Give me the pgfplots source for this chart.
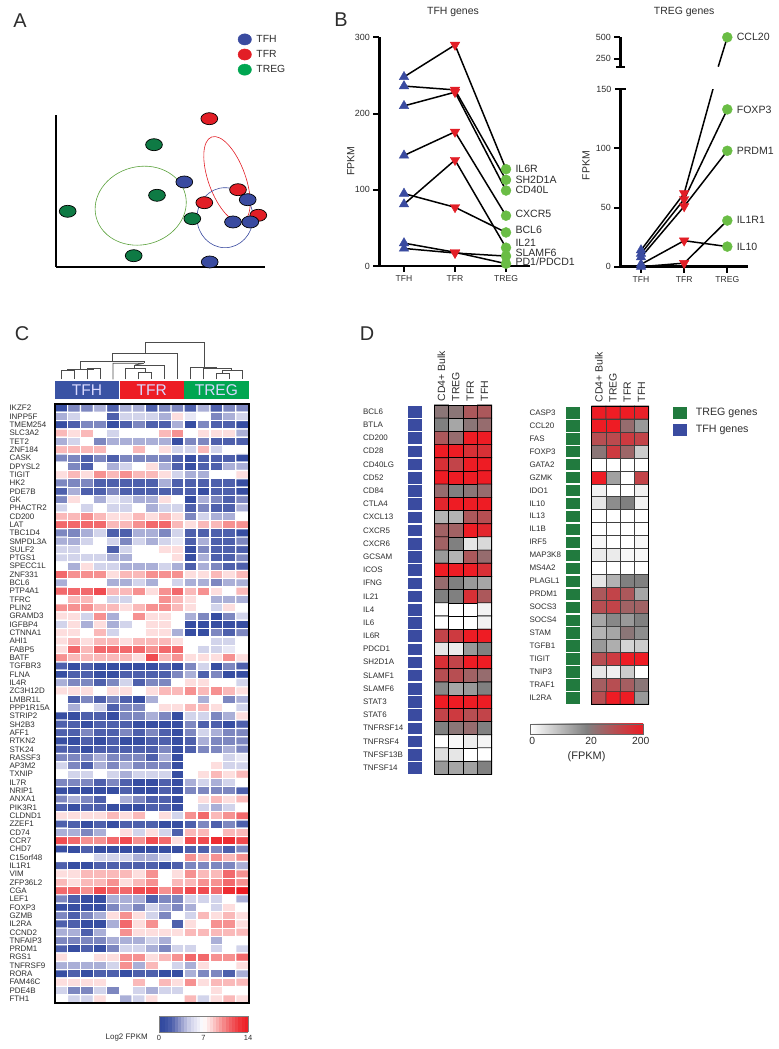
\documentclass[border=0pt]{standalone}
\usepackage{pgfplots}
\usepackage{fontspec}
\setmainfont{Liberation Sans}
\pgfplotsset{compat=1.18}
\newcommand{\fs}[1]{\fontsize{#1}{#1}\selectfont}
\definecolor{tfh}{RGB}{58,75,160}
\definecolor{tfr}{RGB}{226,30,38}
\definecolor{treg}{RGB}{14,122,68}
\definecolor{dotg}{RGB}{106,189,69}
\definecolor{squg}{RGB}{33,122,62}
\definecolor{legg}{RGB}{0,166,81}
\definecolor{txt}{RGB}{45,45,45}
\pgfplotsset{
  every axis/.append style={/pgf/number format/assume math mode=true, scale only axis},
  colormap={bwr}{rgb255(0)=(48,72,158) rgb255(1)=(55,78,162) rgb255(2)=(78,96,172) rgb255(3)=(125,135,192)
    rgb255(4)=(170,175,215) rgb255(5)=(210,212,235) rgb255(6)=(232,232,245) rgb255(7)=(255,255,255)
    rgb255(8)=(253,222,222) rgb255(9)=(250,185,185) rgb255(10)=(246,145,145) rgb255(11)=(242,105,108)
    rgb255(12)=(240,75,80) rgb255(13)=(238,45,50) rgb255(14)=(237,28,36)},
  colormap={gwr}{rgb255(0)=(255,255,255) rgb255(5)=(128,128,128) rgb255(10)=(238,28,36)},
  spine/.style={axis x line*=bottom, axis y line*=left, axis line style={line width=2.6bp,black},
    tick style={line width=2bp,black}, major tick length=6bp, tick align=outside,
    yticklabel style={font=\fs{9},text=txt}, xticklabel style={font=\fs{8.6},text=txt},
    label style={font=\fs{10.5},text=txt}, clip mode=individual,
    every axis title shift=0pt,title style={font=\fs{10.5},text=txt,anchor=center}},
  gene/.style={black,line width=1.5bp},
  up/.style={only marks,mark=triangle*,mark size=5.5bp,mark options={fill=tfh,draw=tfh}},
  down/.style={only marks,mark=triangle*,mark size=5.5bp,mark options={rotate=180,fill=tfr,draw=tfr}},
  dot/.style={only marks,mark=*,mark size=5bp,mark options={fill=dotg,draw=dotg}},
  dendro/.style={draw=black!70,line width=0.8bp},
  heatD/.style={xmin=-0.5,xmax=3.5,y dir=reverse,clip=false,axis on top,
    xtick={0,1,2,3},xticklabels={CD4+ Bulk,TREG,TFR,TFH},xticklabel pos=upper,
    major tick length=0pt,point meta min=0,point meta max=10,colormap name=gwr,
    axis line style={black,line width=0.8bp},
    xticklabel style={rotate=90,anchor=west,font=\fs{10.5},text=txt,inner sep=0pt,xshift=3.5bp}}
}
\begin{document}
\begin{tikzpicture}
\path[use as bounding box] (0,0) rectangle (779bp,1049bp);
\node[font=\fs{20},text=txt] at (20bp,1028bp) {A};
\node[font=\fs{20},text=txt] at (341bp,1029bp) {B};
\node[font=\fs{20},text=txt] at (22bp,715bp) {C};
\node[font=\fs{20},text=txt] at (367bp,715bp) {D};

% A
\begin{axis}[at={(56bp,782bp)},width=209bp,height=152bp,xmin=0,xmax=209,ymin=0,ymax=152,
  axis x line*=bottom,axis y line*=left,axis line style={line width=2bp,black},
  xtick=\empty,ytick=\empty,clip=false,
  legend style={at={(0.87,1.54)},anchor=north west,draw=none,fill=none,font=\fs{10.4},
    text=txt,row sep=2.5bp,column sep=3bp,inner sep=0pt},legend cell align=left]
\addlegendimage{only marks,mark=*,mark size=5.6bp,mark options={xscale=1.2,fill=tfh,draw=tfh}}
\addlegendentry{TFH}
\addlegendimage{only marks,mark=*,mark size=5.6bp,mark options={xscale=1.2,fill=tfr,draw=tfr}}
\addlegendentry{TFR}
\addlegendimage{only marks,mark=*,mark size=5.6bp,mark options={xscale=1.2,fill=legg,draw=legg}}
\addlegendentry{TREG}
\addplot[forget plot,only marks,mark=*,mark size=6bp,mark options={xscale=1.4,fill=treg,draw=black,line width=0.7bp}]
  coordinates {(98,122.3)(101,71.7)(11.7,55.7)(136.3,48.3)(77.7,11.3)};
\addplot[forget plot,only marks,mark=*,mark size=6bp,mark options={xscale=1.4,fill=tfr,draw=black,line width=0.7bp}]
  coordinates {(153.3,148.3)(182,77.3)(148.3,64.3)(202.3,51.7)};
\addplot[forget plot,only marks,mark=*,mark size=6bp,mark options={xscale=1.4,fill=tfh,draw=black,line width=0.7bp}]
  coordinates {(128.3,85)(191.7,67.3)(177,45)(194.3,45)(153.7,5)};
\draw[draw=dotg!85!black,line width=0.6bp,rotate around={15:(axis cs:84.7,61.3)}] (axis cs:84.7,61.3) ellipse [x radius=46bp,y radius=39bp];
\draw[draw=tfr,line width=0.6bp,rotate around={-70:(axis cs:171,87.7)}] (axis cs:171,87.7) ellipse [x radius=45bp,y radius=18.5bp];
\draw[draw=tfh,line width=0.6bp] (axis cs:169,49.3) ellipse [x radius=28bp,y radius=30bp];
\end{axis}

% B left
\begin{axis}[spine,at={(379.3bp,783bp)},width=150.7bp,height=228.7bp,xmin=-0.484,xmax=2.47,ymin=0,ymax=300,
  xtick={0,1,2},xticklabels={TFH,TFR,TREG},ytick={0,100,200,300},ylabel={FPKM},
  ylabel style={at={(axis description cs:-0.19,0.459)},anchor=center},
  title={TFH genes},title style={at={(axis description cs:0.489,1.11)}}]
\addplot[gene] coordinates {(0,248)(1,290)(2,127)};
\addplot[gene] coordinates {(0,236)(1,231)(2,113)};
\addplot[gene] coordinates {(0,210)(1,228)(2,99)};
\addplot[gene] coordinates {(0,145)(1,176)(2,66)};
\addplot[gene] coordinates {(0,95)(1,77)(2,44)};
\addplot[gene] coordinates {(0,81)(1,139)(2,24)};
\addplot[gene] coordinates {(0,23)(1,17)(2,13)};
\addplot[gene] coordinates {(0,30)(1,18)(2,3)};
\addplot[up] coordinates {(0,248)(0,236)(0,210)(0,145)(0,95)(0,81)(0,23)(0,30)};
\addplot[down] coordinates {(1,290)(1,231)(1,228)(1,176)(1,77)(1,139)(1,17)(1,18)};
\addplot[dot] coordinates {(2,127)(2,113)(2,99)(2,66)(2,44)(2,24)(2,13)(2,3)};
\foreach \v/\t in {127/IL6R,113/SH2D1A,100/CD40L,69/CXCR5,47/BCL6,30.5/IL21,17/SLAMF6,6/PD1\slash PDCD1}{
  \edef\tmp{\noexpand\node[anchor=west,inner sep=0pt,font=\noexpand\fs{10.6},text=txt,xshift=9.3bp] at (axis cs:2,\v) {\unexpanded\expandafter{\t}};}\tmp
}
\end{axis}

% B right, lower part
\begin{axis}[spine,at={(620.3bp,782.3bp)},width=127.7bp,height=177.4bp,xmin=-0.48,xmax=2.48,ymin=0,ymax=150,
  xtick={0,1,2},xticklabels={TFH,TFR,TREG},ytick={0,50,100},extra y ticks={150},extra y tick labels={150},
  extra tick style={tick align=center,major tick length=11bp},ylabel={FPKM},
  ylabel style={at={(axis description cs:-0.269,0.569)},anchor=center}]
\addplot[gene] coordinates {(0,14)(1,62)(2,194)};
\addplot[gene] coordinates {(0,11)(1,57)(2,133)};
\addplot[gene] coordinates {(0,8)(1,51)(2,98)};
\addplot[gene] coordinates {(0,2)(1,22)(2,17)};
\addplot[gene] coordinates {(0,0)(1,3)(2,39)};
\addplot[up] coordinates {(0,14)(0,11)(0,8)(0,2)(0,0)};
\addplot[down] coordinates {(1,62)(1,57)(1,51)(1,22)(1,3)};
\addplot[dot] coordinates {(2,133)(2,98)(2,39)(2,17)};
\foreach \v/\t in {133/FOXP3,98/PRDM1,40/IL1R1,17/IL10}{
  \edef\tmp{\noexpand\node[anchor=west,inner sep=0pt,font=\noexpand\fs{10.6},text=txt,xshift=9.3bp] at (axis cs:2,\v) {\t};}\tmp
}
\end{axis}

% B right, upper part
\begin{axis}[spine,at={(620.3bp,982.3bp)},width=127.7bp,height=29.4bp,xmin=-0.48,xmax=2.48,ymin=156,ymax=500,
  axis x line=none,ytick={250,500},extra y ticks={156},extra y tick labels={},
  extra tick style={tick align=center,major tick length=9bp},
  title={TREG genes},title style={at={(axis description cs:0.5,1.86)}}]
\addplot[gene] coordinates {(1.79,156)(2,500)};
\addplot[dot] coordinates {(2,500)};
\node[anchor=west,inner sep=0pt,font=\fs{10.6},text=txt,xshift=9.3bp] at (axis cs:2,505) {CCL20};
\end{axis}

% C, dendrogram and group bars
\begin{axis}[at={(54.7bp,650bp)},width=194bp,height=61bp,xmin=0,xmax=15,ymin=0,ymax=61,hide axis,clip=false]
\addplot[fill={rgb,255:red,58;green,83;blue,164},draw=none] coordinates {(0,0)(4.98,0)(4.98,18.3)(0,18.3)} -- cycle;
\addplot[fill={rgb,255:red,237;green,28;blue,36},draw=none] coordinates {(5.02,0)(9.98,0)(9.98,18.3)(5.02,18.3)} -- cycle;
\addplot[fill={rgb,255:red,0;green,166;blue,81},draw=none] coordinates {(10.02,0)(15,0)(15,18.3)(10.02,18.3)} -- cycle;
\node[font=\fs{15.6},text=white!85!blue] at (axis cs:2.5,8.6) {TFH};
\node[font=\fs{15.6},text=white!85!blue] at (axis cs:7.5,8.6) {TFR};
\node[font=\fs{15.6},text=white!85!blue] at (axis cs:12.5,8.6) {TREG};
\addplot[dendro] coordinates {(0.5,19.7)(0.5,28.3)(1.5,28.3)(1.5,19.7)};
\addplot[dendro] coordinates {(2.5,19.7)(2.5,30.7)(3.5,30.7)(3.5,19.7)};
\addplot[dendro] coordinates {(1,28.3)(1,29.7)(3,29.7)};
\addplot[dendro] coordinates {(2,29.7)(2,37.3)(6.9,37.3)(6.9,35.7)};
\addplot[dendro] coordinates {(4.5,19.7)(4.5,35.7)(6.9,35.7)(6.2,34)};
\addplot[dendro] coordinates {(6.5,19.7)(6.5,26.7)(7.5,26.7)(7.5,19.7)};
\addplot[dendro] coordinates {(5.5,19.7)(5.5,30.7)(7,30.7)(7,26.7)};
\addplot[dendro] coordinates {(6.2,30.7)(6.2,34)(8.5,34)(8.5,19.7)};
\addplot[dendro] coordinates {(4.46,37.3)(4.46,45.7)(9.5,45.7)(9.5,19.7)};
\addplot[dendro] coordinates {(7,45.7)(7,57)(11.6,57)(11.6,31.7)};
\addplot[dendro] coordinates {(12.5,19.7)(12.5,25.7)(13.5,25.7)(13.5,19.7)};
\addplot[dendro] coordinates {(13,25.7)(13,29)(14.5,29)(14.5,19.7)};
\addplot[dendro] coordinates {(11.5,19.7)(11.5,31)(13.7,31)(13.7,29)};
\addplot[dendro] coordinates {(10.5,19.7)(10.5,31.7)(12.5,31.7)(12.5,31)};
\end{axis}

% C, heat map
\begin{axis}[at={(54.7bp,46bp)},width=194bp,height=599bp,xmin=-0.5,xmax=14.5,ymin=-0.5,ymax=71.5,
  y dir=reverse,clip=false,axis on top,axis line style={black,line width=1.6bp},
  xtick=\empty,ytick={0,...,71},major tick length=0pt,
  yticklabels={IKZF2,INPP5F,TMEM254,SLC3A2,TET2,ZNF184,CASK,DPYSL2,TIGIT,HK2,PDE7B,GK,PHACTR2,CD200,LAT,TBC1D4,SMPDL3A,SULF2,PTGS1,SPECC1L,ZNF331,BCL6,PTP4A1,TFRC,PLIN2,GRAMD3,IGFBP4,CTNNA1,AHI1,FABP5,BATF,TGFBR3,FLNA,IL4R,ZC3H12D,LMBR1L,PPP1R15A,STRIP2,SH2B3,AFF1,RTKN2,STK24,RASSF3,AP3M2,TXNIP,IL7R,NRIP1,ANXA1,PIK3R1,CLDND1,ZZEF1,CD74,CCR7,CHD7,C15orf48,IL1R1,VIM,ZFP36L2,CGA,LEF1,FOXP3,GZMB,IL2RA,CCND2,TNFAIP3,PRDM1,RGS1,TNFRSF9,RORA,FAM46C,PDE4B,FTH1},
  yticklabel style={font=\fs{8},text=txt,text width=45bp,align=left,inner sep=0pt,anchor=east},
  point meta min=0,point meta max=14,colormap name=bwr,
  colorbar horizontal,colorbar sampled,
  colorbar style={samples=29,at={(0.538,-0.0217)},anchor=north west,width=89bp,height=16bp,
    xtick={0,7,14},major tick length=0pt,axis line style={draw=black!50,line width=0.4bp},
    xticklabel style={font=\fs{7.5},text=txt}}]
\addplot[matrix plot*,draw=white,line width=1.2bp,mesh/cols=15,point meta=\thisrowno{0}]
  table[header=false,row sep=\\,x expr={mod(\coordindex,15)},y expr={floor((\coordindex+0.5)/15)}] {
1\\3\\3\\4\\2\\4\\4\\2\\3\\3\\2\\4\\2\\3\\3\\
4\\5\\7\\7\\2\\5\\5\\5\\4\\8\\6\\7\\3\\4\\5\\
1\\2\\3\\3\\1\\2\\3\\2\\2\\4\\1\\3\\2\\2\\1\\
9\\8\\9\\7\\5\\7\\7\\7\\9\\10\\7\\8\\8\\8\\4\\
4\\5\\7\\3\\4\\4\\4\\4\\4\\1\\3\\3\\2\\2\\2\\
9\\9\\9\\9\\7\\7\\9\\7\\8\\5\\5\\9\\5\\7\\7\\
3\\3\\2\\3\\2\\3\\3\\3\\3\\2\\1\\2\\2\\2\\1\\
7\\3\\2\\7\\4\\5\\7\\8\\4\\2\\1\\2\\2\\4\\4\\
8\\9\\8\\10\\9\\10\\9\\9\\8\\5\\4\\4\\7\\7\\8\\
3\\3\\3\\2\\2\\2\\2\\2\\4\\2\\2\\2\\2\\2\\1\\
2\\4\\2\\2\\3\\2\\2\\2\\2\\2\\2\\1\\2\\2\\1\\
3\\8\\7\\4\\6\\5\\4\\4\\8\\7\\1\\4\\3\\2\\3\\
5\\7\\5\\7\\5\\5\\7\\4\\5\\5\\2\\3\\2\\2\\4\\
9\\9\\10\\9\\8\\8\\9\\8\\9\\8\\3\\5\\4\\4\\7\\
11\\11\\11\\11\\9\\9\\10\\11\\11\\9\\8\\9\\9\\10\\10\\
3\\3\\4\\5\\2\\2\\4\\4\\3\\5\\2\\2\\2\\2\\1\\
4\\4\\5\\7\\5\\3\\5\\4\\5\\6\\2\\4\\2\\2\\3\\
5\\5\\7\\7\\2\\5\\7\\7\\8\\8\\1\\3\\2\\2\\2\\
5\\5\\5\\5\\4\\4\\7\\7\\7\\8\\1\\4\\2\\2\\3\\
7\\4\\8\\5\\5\\4\\4\\4\\5\\4\\2\\4\\3\\2\\2\\
11\\10\\10\\10\\8\\9\\9\\10\\10\\10\\8\\8\\9\\8\\9\\
4\\7\\7\\7\\4\\4\\5\\4\\7\\5\\4\\4\\3\\4\\4\\
11\\11\\11\\12\\9\\9\\10\\8\\10\\11\\9\\10\\8\\7\\9\\
7\\9\\9\\7\\5\\5\\7\\7\\10\\9\\8\\7\\4\\4\\4\\
10\\10\\10\\9\\9\\8\\9\\10\\10\\9\\8\\7\\5\\8\\7\\
8\\8\\5\\10\\4\\7\\10\\8\\8\\7\\4\\3\\1\\3\\5\\
5\\8\\4\\8\\4\\5\\7\\8\\8\\7\\1\\1\\1\\1\\1\\
8\\8\\7\\9\\5\\7\\7\\8\\8\\4\\1\\1\\3\\2\\3\\
8\\9\\8\\9\\9\\8\\9\\9\\9\\8\\7\\7\\5\\5\\7\\
8\\11\\9\\11\\11\\11\\11\\10\\11\\11\\7\\5\\5\\6\\7\\
10\\9\\9\\9\\9\\9\\8\\12\\9\\10\\8\\8\\8\\10\\8\\
2\\1\\2\\1\\1\\1\\1\\1\\2\\1\\3\\5\\1\\3\\2\\
1\\2\\2\\1\\1\\2\\2\\2\\2\\3\\4\\2\\3\\1\\1\\
4\\3\\3\\2\\3\\5\\2\\3\\3\\7\\8\\8\\7\\7\\5\\
8\\8\\8\\7\\8\\8\\7\\8\\9\\9\\10\\9\\10\\9\\8\\
7\\2\\3\\2\\3\\2\\1\\4\\7\\7\\7\\4\\7\\3\\4\\
7\\4\\7\\5\\2\\3\\3\\7\\8\\8\\9\\9\\8\\7\\5\\
1\\1\\2\\2\\1\\3\\3\\4\\3\\1\\5\\5\\3\\4\\8\\
2\\2\\1\\2\\2\\2\\1\\1\\1\\1\\3\\2\\2\\1\\2\\
2\\2\\3\\2\\2\\3\\2\\3\\2\\1\\3\\5\\4\\3\\3\\
1\\1\\2\\1\\2\\1\\1\\2\\2\\1\\2\\4\\3\\3\\3\\
2\\2\\1\\2\\2\\2\\2\\2\\3\\1\\2\\3\\3\\4\\3\\
3\\3\\3\\4\\3\\3\\3\\2\\4\\1\\7\\7\\7\\5\\6\\
5\\3\\2\\4\\3\\4\\3\\3\\3\\1\\7\\7\\8\\5\\5\\
7\\5\\5\\7\\5\\4\\5\\5\\5\\1\\7\\8\\9\\8\\9\\
3\\3\\3\\2\\3\\2\\1\\1\\2\\1\\4\\5\\4\\5\\7\\
1\\1\\1\\1\\1\\2\\1\\1\\2\\1\\3\\3\\3\\3\\2\\
3\\4\\3\\2\\7\\4\\3\\2\\2\\1\\7\\8\\9\\8\\9\\
2\\1\\2\\2\\1\\1\\1\\2\\2\\1\\7\\5\\4\\5\\7\\
8\\8\\8\\8\\9\\8\\9\\7\\8\\5\\10\\11\\9\\10\\11\\
2\\2\\1\\2\\1\\2\\2\\2\\1\\1\\2\\3\\2\\3\\2\\
4\\4\\3\\4\\7\\8\\5\\8\\5\\2\\9\\9\\7\\9\\9\\
12\\11\\10\\10\\11\\12\\10\\12\\11\\8\\12\\12\\13\\13\\12\\
1\\1\\2\\1\\1\\1\\1\\1\\1\\1\\2\\2\\3\\2\\3\\
7\\7\\7\\5\\5\\5\\4\\4\\5\\7\\10\\9\\10\\9\\10\\
2\\1\\1\\2\\2\\2\\2\\2\\1\\2\\3\\3\\3\\3\\4\\
8\\8\\9\\9\\9\\9\\8\\10\\7\\8\\10\\9\\9\\11\\10\\
9\\8\\9\\9\\10\\8\\9\\10\\7\\9\\9\\10\\10\\11\\10\\
11\\11\\10\\12\\11\\11\\12\\12\\10\\11\\12\\12\\11\\13\\14\\
3\\2\\1\\1\\4\\4\\4\\2\\3\\3\\5\\5\\5\\7\\4\\
1\\1\\1\\1\\3\\4\\3\\5\\4\\3\\4\\7\\5\\8\\7\\
3\\2\\3\\4\\8\\10\\8\\5\\3\\7\\5\\9\\8\\9\\8\\
2\\2\\1\\1\\4\\11\\8\\10\\7\\2\\8\\7\\10\\10\\8\\
4\\4\\2\\4\\7\\10\\8\\8\\8\\8\\9\\9\\9\\9\\9\\
3\\3\\3\\3\\4\\4\\4\\5\\4\\7\\7\\7\\4\\7\\7\\
2\\1\\2\\1\\3\\5\\5\\4\\3\\5\\5\\7\\5\\7\\5\\
8\\7\\7\\8\\8\\10\\10\\8\\9\\10\\11\\11\\10\\10\\11\\
4\\4\\4\\4\\5\\10\\4\\9\\7\\5\\4\\8\\7\\7\\8\\
1\\2\\1\\2\\2\\1\\2\\2\\1\\1\\4\\3\\3\\2\\4\\
8\\8\\8\\8\\7\\7\\9\\7\\9\\8\\10\\8\\9\\9\\9\\
5\\3\\3\\5\\3\\7\\5\\4\\5\\5\\7\\7\\8\\7\\7\\
7\\5\\5\\8\\7\\4\\5\\8\\7\\7\\9\\5\\8\\9\\8\\
};
\node[font=\fs{8},text=txt] at (axis cs:5.07,75.6) {Log2 FPKM};
\end{axis}

% D, left
\begin{axis}[heatD,at={(434.3bp,274.7bp)},width=57.4bp,height=369.3bp,ymin=-0.5,ymax=27.5,
  ytick={0,...,27},
  yticklabels={BCL6,BTLA,CD200,CD28,CD40LG,CD52,CD84,CTLA4,CXCL13,CXCR5,CXCR6,GCSAM,ICOS,IFNG,IL21,IL4,IL6,IL6R,PDCD1,SH2D1A,SLAMF1,SLAMF6,STAT3,STAT6,TNFRSF14,TNFRSF4,TNFSF13B,TNFSF14},
  yticklabel style={font=\fs{8},text=txt,text width=71bp,align=left,inner sep=0pt,anchor=east}]
\addplot[matrix plot*,draw=black,line width=0.6bp,mesh/cols=4,point meta=\thisrowno{0}]
  table[header=false,row sep=\\,x expr={mod(\coordindex,4)},y expr={floor((\coordindex+0.5)/4)}] {
5.5\\5.5\\7\\7\\
5\\3.5\\5.5\\6\\
7\\6\\10\\10\\
10\\10\\9\\9\\
9\\8\\10\\10\\
10\\10\\10\\10\\
6\\5\\5.5\\6\\
9.5\\10\\10\\10\\
3\\3\\7\\7.5\\
6.5\\6.5\\10\\9.5\\
6.5\\5\\1\\1.5\\
4\\3\\7\\6\\
10\\10\\10\\9\\
6\\5\\4\\3.5\\
5\\5\\9\\7\\
0\\0\\0\\0.5\\
0\\0\\0\\0.5\\
8\\8.5\\10\\10\\
1\\0.8\\4\\5\\
9\\8\\10\\10\\
7.5\\7.5\\6.5\\6\\
4.7\\3.5\\4\\5\\
10\\10\\10\\10\\
8\\8.5\\7.5\\8\\
5\\5.5\\6\\5\\
0\\0.3\\0.7\\0.4\\
1.3\\1\\0\\0\\
4\\3.5\\3.7\\5\\
};
\addplot[only marks,mark=square*,mark size=6.6bp,mark options={yscale=0.8,fill=tfh,draw=tfh}]
  coordinates {(-1.86,0)(-1.86,1)(-1.86,2)(-1.86,3)(-1.86,4)(-1.86,5)(-1.86,6)(-1.86,7)(-1.86,8)(-1.86,9)(-1.86,10)(-1.86,11)(-1.86,12)(-1.86,13)(-1.86,14)(-1.86,15)(-1.86,16)(-1.86,17)(-1.86,18)(-1.86,19)(-1.86,20)(-1.86,21)(-1.86,22)(-1.86,23)(-1.86,24)(-1.86,25)(-1.86,26)(-1.86,27)};
\end{axis}

% D, right
\begin{axis}[heatD,at={(591.7bp,344.7bp)},width=57bp,height=298.3bp,ymin=-0.5,ymax=22.5,
  ytick={0,...,22},
  yticklabels={CASP3,CCL20,FAS,FOXP3,GATA2,GZMK,IDO1,IL10,IL13,IL1B,IRF5,MAP3K8,MS4A2,PLAGL1,PRDM1,SOCS3,SOCS4,STAM,TGFB1,TIGIT,TNIP3,TRAF1,IL2RA},
  yticklabel style={font=\fs{8},text=txt,text width=62bp,align=left,inner sep=0pt,anchor=east},
  colorbar horizontal,
  colorbar style={at={(-1.082,-0.066)},anchor=north west,width=113bp,height=10bp,
    xtick={0.2,5.4,9.8},xticklabels={0,20,200},major tick length=0pt,
    axis line style={draw=black!60,line width=0.4bp},
    xticklabel style={font=\fs{10.4},text=txt},
    xlabel={(FPKM)},xlabel style={font=\fs{11},text=txt}},
  legend style={at={(1.42,1.0)},anchor=north west,draw=none,fill=none,font=\fs{10.7},
    text=txt,row sep=4bp,column sep=8bp,inner sep=0pt},legend cell align=left]
\addlegendimage{only marks,mark=square*,mark size=6.5bp,mark options={yscale=0.8,fill=squg,draw=squg}}
\addlegendentry{TREG genes}
\addlegendimage{only marks,mark=square*,mark size=6.5bp,mark options={yscale=0.8,fill=tfh,draw=tfh}}
\addlegendentry{TFH genes}
\addplot[forget plot,matrix plot*,draw=black!75,line width=0.6bp,mesh/cols=4,point meta=\thisrowno{0}]
  table[header=false,row sep=\\,x expr={mod(\coordindex,4)},y expr={floor((\coordindex+0.5)/4)}] {
10\\10\\10\\9.8\\
10\\10\\6\\4\\
7.5\\7.7\\8.5\\8\\
5.5\\8.5\\6.3\\2\\
0\\0\\0\\0\\
10\\3.7\\0\\8\\
0.5\\0\\0\\0.5\\
1\\4.5\\5\\0.5\\
0\\0\\0\\0\\
0\\0\\0\\0\\
0.3\\0\\0\\0.3\\
0.8\\0.8\\0.3\\0.3\\
0\\0\\0\\0\\
1\\3\\5\\5\\
7\\8\\7\\3.5\\
7.5\\8\\6.5\\6.5\\
3.5\\4.7\\4\\5\\
3\\3.5\\5.5\\4.5\\
4\\3.2\\1.7\\2\\
7.5\\8.5\\10\\10\\
1\\0.6\\2\\0\\
6.7\\7.5\\6.7\\5.5\\
7.5\\10\\10\\4\\
};
\addplot[forget plot,only marks,mark=square*,mark size=6.6bp,mark options={yscale=0.8,fill=squg,draw=squg}]
  coordinates {(-1.85,0)(-1.85,1)(-1.85,2)(-1.85,3)(-1.85,4)(-1.85,5)(-1.85,6)(-1.85,7)(-1.85,8)(-1.85,9)(-1.85,10)(-1.85,11)(-1.85,12)(-1.85,13)(-1.85,14)(-1.85,15)(-1.85,16)(-1.85,17)(-1.85,18)(-1.85,19)(-1.85,20)(-1.85,21)(-1.85,22)};
\end{axis}
\end{tikzpicture}
\end{document}
